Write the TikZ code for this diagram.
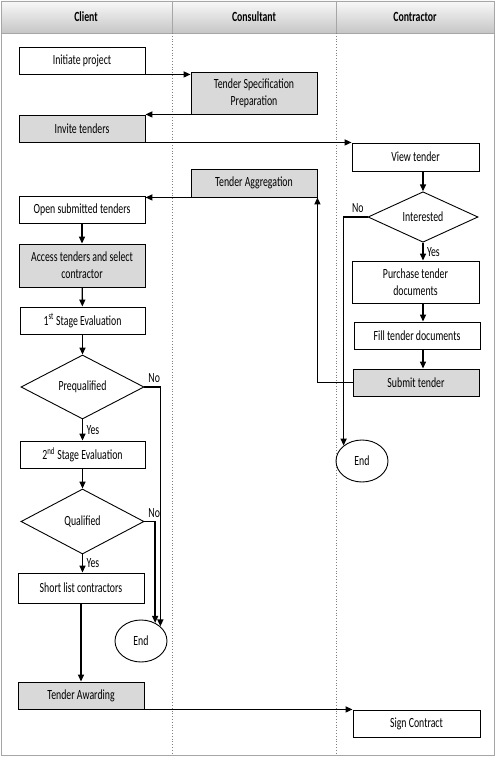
\documentclass[tikz,border=0pt]{standalone}
\usepackage{fontspec}
\setmainfont{Carlito}[FakeStretch=0.7]
\usetikzlibrary{arrows.meta,shapes.geometric}
\definecolor{gris}{HTML}{D9D9D9}

\begin{document}
\begin{tikzpicture}[
  x=1pt,y=-1pt,
  >={Triangle[length=7pt,width=6pt]},
  font=\fontsize{14}{17}\selectfont,
  etape/.style={draw,line width=0.9pt,minimum width=126pt,minimum height=27pt,inner sep=1pt,align=center},
  grise/.style={etape,fill=gris},
  choix/.style={draw,diamond,line width=0.9pt,inner sep=0pt},
  fin/.style={draw,ellipse,line width=0.9pt,minimum width=52pt,minimum height=42pt,inner sep=0pt},
  fleche/.style={line width=1.4pt,->},
  couloir/.style={gray,dotted,line width=0.8pt},
]
  \useasboundingbox (0,0) rectangle (495,757);

  % Cadre et en-tete
  \shade[top color=gray!5,bottom color=gray!45] (1,1) rectangle (494,33);
  \draw[gray!70,line width=0.8pt] (1,1) rectangle (494,755);
  \draw[gray!70,line width=0.8pt] (1,33) -- (494,33);
  \draw[gray!70,line width=0.8pt] (172,1) -- (172,33);
  \draw[gray!70,line width=0.8pt] (336,1) -- (336,33);
  \node[font=\fontsize{14}{17}\selectfont\bfseries] (hclient) at (86,17) {Client};
  \node[font=\fontsize{14}{17}\selectfont\bfseries] (hconsult) at (254,17) {Consultant};
  \node[font=\fontsize{14}{17}\selectfont\bfseries] (hcontract) at (415,17) {Contractor};

  % Couloirs
  \draw[couloir] (172,33) -- (172,755);
  \draw[couloir] (336,33) -- (336,755);

  % Client
  \node[etape] (init) at (82,60.5) {Initiate project};
  \node[grise] (invite) at (82,128.5) {Invite tenders};
  \node[etape] (ouvrir) at (82,209.5) {Open submitted tenders};
  \node[grise,minimum height=43pt] (choisir) at (82,265.5) {Access tenders and select\\contractor};
  \node[etape,minimum width=125pt] (eval1) at (82.5,320.5) {1\textsuperscript{st} Stage Evaluation};
  \node[choix,minimum width=123pt,minimum height=64pt] (preq) at (82.5,387) {Prequalified};
  \node[etape,minimum width=125pt] (eval2) at (82.5,454.5) {2\textsuperscript{nd} Stage Evaluation};
  \node[choix,minimum width=123pt,minimum height=65pt] (qual) at (82.5,521.5) {Qualified};
  \node[etape,minimum height=30pt] (liste) at (81,588) {Short list contractors};
  \node[fin] (finG) at (141,641) {End};
  \node[grise] (attrib) at (81,695.5) {Tender Awarding};

  % Consultant
  \node[grise,minimum height=42pt] (spec) at (254,93) {Tender Specification\\Preparation};
  \node[grise,minimum height=28pt] (aggr) at (254,183) {Tender Aggregation};

  % Entrepreneur
  \node[etape,minimum width=127pt,minimum height=28pt] (voir) at (415.5,157) {View tender};
  \node[choix,minimum width=110pt,minimum height=50pt] (inter) at (423,217) {Interested};
  \node[etape,minimum width=127pt,minimum height=42pt] (achat) at (415.5,282) {Purchase tender\\documents};
  \node[etape] (remplir) at (417,335.5) {Fill tender documents};
  \node[grise] (soumettre) at (416,382.5) {Submit tender};
  \node[fin] (finD) at (362,461) {End};
  \node[etape,minimum width=127pt] (signer) at (416.5,723.5) {Sign Contract};

  % Liens entre couloirs
  \draw[fleche] (init.south east) -- (init.south east -| spec.west);
  \draw[fleche] (spec.south west) -- (spec.south west -| invite.east);
  \draw[fleche] (invite.south east) -- (invite.south east -| voir.west);
  \draw[fleche] (aggr.south west) -- (aggr.south west -| ouvrir.east);
  \draw[fleche] (soumettre.west) -| (aggr.south east);
  \draw[fleche] (attrib.south east) -- (attrib.south east -| signer.west);

  % Entrepreneur
  \draw[fleche] (inter.north |- voir.south) -- (inter.north);
  \draw[fleche] (inter.south) -- node[right] {Yes} (inter.south |- achat.north);
  \draw[fleche] (inter.south |- achat.south) -- (inter.south |- remplir.north);
  \draw[fleche] (inter.south |- remplir.south) -- (inter.south |- soumettre.north);
  \draw[fleche] (inter.west) node[above left] {No} -| (finD.140);

  % Client
  \draw[fleche] (ouvrir) -- (choisir);
  \draw[fleche] (choisir) -- (eval1);
  \draw[fleche] (eval1) -- (preq);
  \draw[fleche] (preq) -- node[right] {Yes} (eval2);
  \draw[fleche] (eval2) -- (qual);
  \draw[fleche] (qual) -- node[right] {Yes} (qual.south |- liste.north);
  \draw[fleche] (liste) -- (attrib);
  \draw[fleche] (preq.east) node[above right] {No} -| (finG.37);
  \draw[fleche] (qual.east) node[above right] {No} -| (finG.52);
\end{tikzpicture}
\end{document}
